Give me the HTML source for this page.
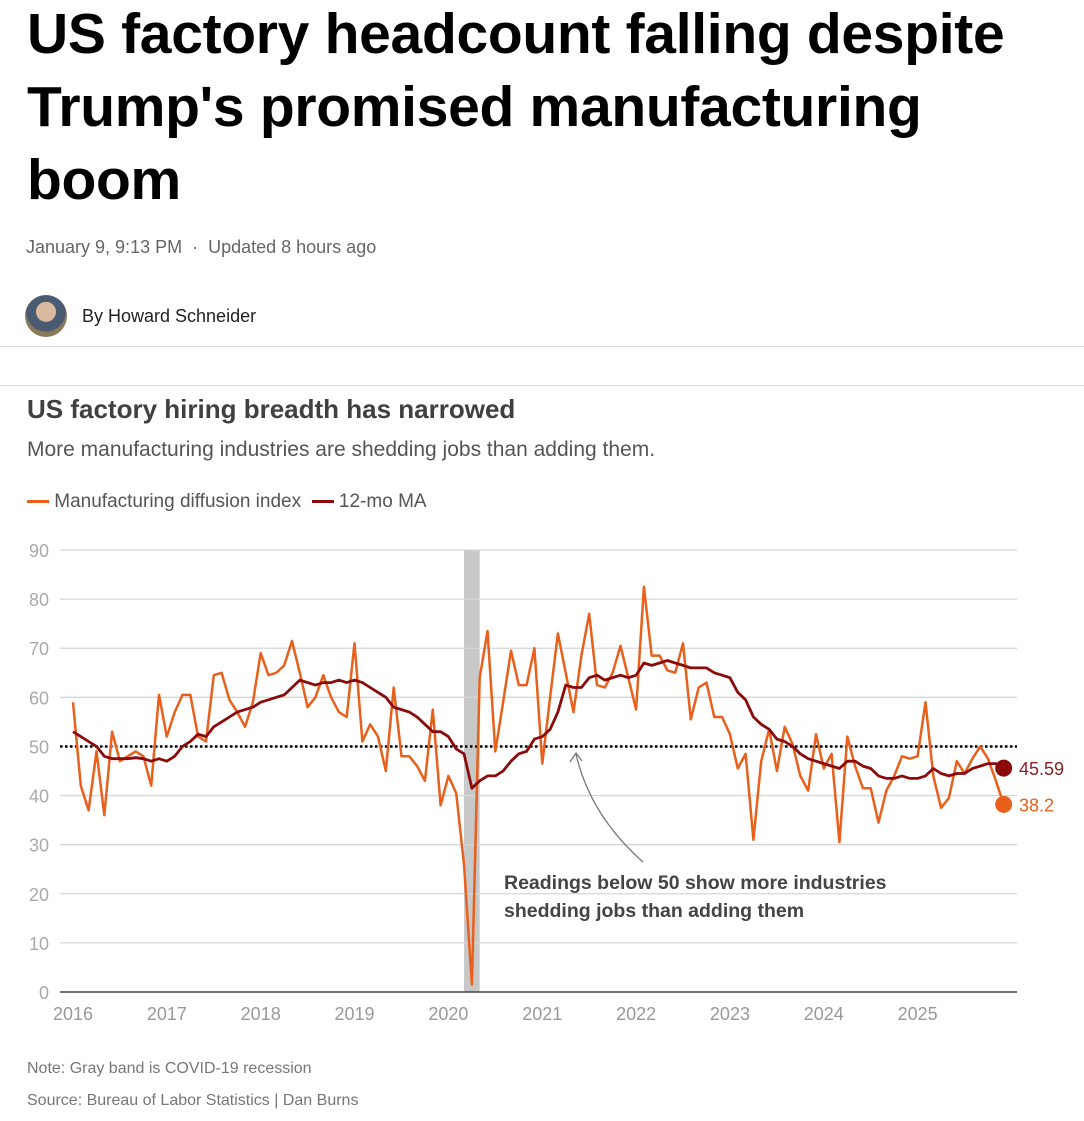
<!DOCTYPE html>
<html><head><meta charset="utf-8">
<style>
body{margin:0;width:1084px;height:1121px;background:#fff;font-family:"Liberation Sans",sans-serif;position:relative;overflow:hidden}
.abs{position:absolute;white-space:nowrap}
h1{position:absolute;left:27px;top:-2px;margin:0;font-size:57px;line-height:73px;font-weight:bold;color:#000;letter-spacing:-0.3px}
</style></head><body>
<h1>US factory headcount falling despite<br>Trump's promised manufacturing<br>boom</h1>
<div class="abs" style="left:26px;top:237px;font-size:18px;color:#666">January 9, 9:13 PM &nbsp;·&nbsp; Updated 8 hours ago</div>
<div class="abs" style="left:25px;top:295px;width:42px;height:42px;border-radius:50%;background:radial-gradient(circle at 50% 40%,#d9b9a0 0 30%,#4a5a70 31% 60%,#8a7a5a 61%)"></div>
<div class="abs" style="left:82px;top:306px;font-size:18px;color:#222">By Howard Schneider</div>
<div class="abs" style="left:0;top:346px;width:1084px;height:1px;background:#ddd"></div>
<div class="abs" style="left:0;top:385px;width:1084px;height:1px;background:#ddd"></div>
<div class="abs" style="left:27px;top:394px;font-size:26px;font-weight:bold;color:#404040">US factory hiring breadth has narrowed</div>
<div class="abs" style="left:27px;top:438px;font-size:21px;color:#555">More manufacturing industries are shedding jobs than adding them.</div>
<div class="abs" style="left:27px;top:491px;font-size:19px;color:#555">
<span><span style="display:inline-block;width:22px;height:3px;background:#e8601c;vertical-align:middle"></span> Manufacturing diffusion index</span>
&nbsp;<span><span style="display:inline-block;width:22px;height:3px;background:#8b0a0a;vertical-align:middle"></span> 12-mo MA</span></div>
<svg id="chart" width="1084" height="1121" style="position:absolute;left:0;top:0" font-family="Liberation Sans, sans-serif"></svg>
<div class="abs" style="left:27px;top:1060px;font-size:16px;color:#777">Note: Gray band is COVID-19 recession</div>
<div class="abs" style="left:27px;top:1092px;font-size:16px;color:#777">Source: Bureau of Labor Statistics | Dan Burns</div>
<script>
const yTicks=[0,10,20,30,40,50,60,70,80,90];
const years=[2016,2017,2018,2019,2020,2021,2022,2023,2024,2025];
const diffusion=[59,42,37,49,36,53,47,48,49,48,42,60.5,
52,57,60.5,60.5,52,51,64.5,65,59.5,57,54,59,
69,64.5,65,66.5,71.5,65,58,60,64.5,60,57,56,
71,51,54.5,52,45,62,48,48,46,43,57.5,38,
44,40.5,26,1.5,64,73.5,49,59,69.5,62.5,62.5,70,
46.5,60,73,65,57,68.5,77,62.5,62,65,70.5,64,
57.5,82.5,68.5,68.5,65.5,65,71,55.5,62,63,56,56,
52.5,45.5,48.5,31,47,53.5,45,54,50.5,44,41,52.5,
45.5,48.5,30.5,52,46,41.5,41.5,34.5,41,44,48,47.5,
48,59,44,37.5,39.5,47,44.5,47.5,50,47.5,43,38.2];
const movingAvg=[53,52,51,50,48,47.5,47.5,47.5,47.7,47.5,47,47.5,
47,48,50,51,52.5,52,54,55,56,57,57.5,58,
59,59.5,60,60.5,62,63.5,63,62.5,63,63,63.5,63,
63.5,63,62,61,60,58,57.5,57,56,54.5,53,53,
52,49.5,48.5,41.5,43,44,44,45,47,48.5,49,51.5,
52,53.5,57,62.5,62,62,64,64.5,63.5,64,64.5,64,
64.5,67,66.5,67,67.5,67,66.5,66,66,66,65,64.5,
64,61,59.5,56,54.5,53.5,51.5,51,50,48.5,47.5,47,
46.5,46,45.5,47,47,46,45.5,44,43.5,43.5,44,43.5,
43.5,44,45.5,44.5,44,44.5,44.5,45.5,46,46.5,46.5,45.59];
const covid=[2020+2/12,2020+4/12];
const svg=document.getElementById('chart');const NS='http://www.w3.org/2000/svg';
const X0=60,X1=1017,Y0=992,YT=550;
const y=v=>Y0-(v/90)*(Y0-YT);
const xt=t=>73+(t-2016)*93.85;
const xi=i=>xt(2016+i/12);
function mk(t,a){const e=document.createElementNS(NS,t);for(const k in a)e.setAttribute(k,a[k]);svg.appendChild(e);return e;}
let e;
e=mk('rect',{x:xt(covid[0]),y:YT,width:xt(covid[1])-xt(covid[0]),height:Y0-YT,fill:'#c8c8c8'});


yTicks.forEach(v=>{
 if(v>0){e=mk('line',{x1:X0,x2:X1,y1:y(v),y2:y(v),stroke:'#d6d6d6','stroke-width':1.3});
 
 }
 e=mk('text',{x:49,y:y(v)+7,'text-anchor':'end','font-size':18,fill:'#aaa'});e.textContent=v;
 
 
});
years.forEach(t=>{e=mk('text',{x:xt(t),y:1020,'text-anchor':'middle','font-size':18,fill:'#999'});e.textContent=t;
 
 });
e=mk('line',{x1:X0,x2:X1,y1:Y0,y2:Y0,stroke:'#444','stroke-width':1.5});


e=mk('line',{x1:X0,x2:X1,y1:y(50),y2:y(50),stroke:'#000','stroke-width':2.5,'stroke-dasharray':'2.5 2.5'});


const pts=a=>a.map((v,i)=>xi(i).toFixed(1)+','+y(v).toFixed(1)).join(' ');
e=mk('polyline',{points:pts(diffusion),fill:'none',stroke:'#e8601c','stroke-width':2.5,'stroke-linejoin':'round'});


e=mk('polyline',{points:pts(movingAvg),fill:'none',stroke:'#8b0a0a','stroke-width':2.8,'stroke-linejoin':'round'});


const L=diffusion.length-1,M=movingAvg.length-1;
e=mk('circle',{cx:xi(M),cy:y(movingAvg[M]),r:8.5,fill:'#8b0a0a'});


e=mk('circle',{cx:xi(L),cy:y(diffusion[L]),r:8.5,fill:'#e8601c'});


e=mk('text',{x:1019,y:y(movingAvg[M])+7,'font-size':18,fill:'#8b2020'});e.textContent=movingAvg[M].toFixed(2);


e=mk('text',{x:1019,y:y(diffusion[L])+7,'font-size':18,fill:'#e8601c'});e.textContent=diffusion[L].toFixed(1);


e=mk('path',{d:'M643,862 Q590,815 576,754',fill:'none',stroke:'#777','stroke-width':1.3});


e=mk('path',{d:'M570,762 L576,753 L582,761',fill:'none',stroke:'#777','stroke-width':1.3});


e=mk('text',{x:504,y:889,'font-size':19.5,'font-weight':'bold',fill:'#444'});e.textContent='Readings below 50 show more industries';


e=mk('text',{x:504,y:917,'font-size':19.5,'font-weight':'bold',fill:'#444'});e.textContent='shedding jobs than adding them';


</script>
</body></html>
